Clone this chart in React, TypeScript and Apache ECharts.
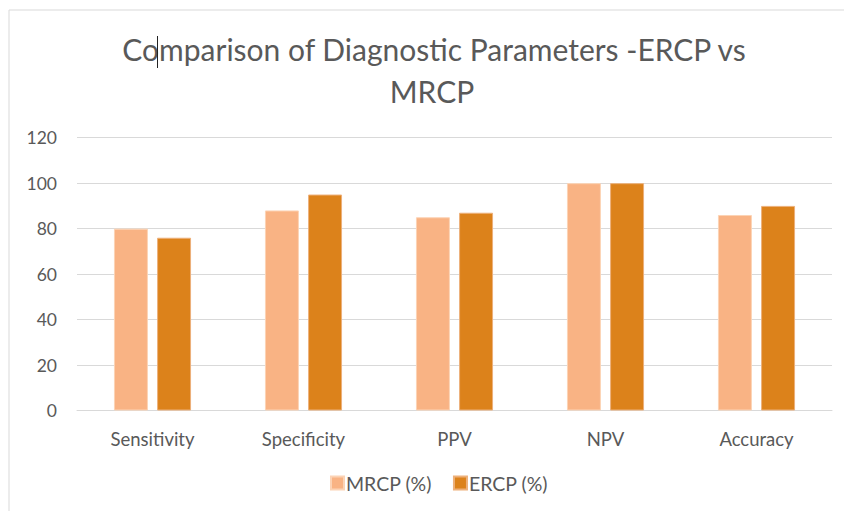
import React, { useEffect, useRef } from "react";
import * as echarts from "echarts";

const categories = ["Sensitivity", "Specificity", "PPV", "NPV", "Accuracy"];
const mrcpValues = [80, 88, 85, 100, 86];
const ercpValues = [76, 95, 87, 100, 90];
const seriesNames = ["MRCP (%)", "ERCP (%)"];
const titleLines = ["Comparison of Diagnostic Parameters -ERCP vs", "MRCP"];

const FONT = "Lato, 'Open Sans', sans-serif";
const TEXT = "#595959";

export default function App() {
  const ref = useRef<HTMLDivElement>(null);
  useEffect(() => {
    if (!ref.current) return;
    const chart = echarts.init(ref.current, undefined, { renderer: "svg" });
    chart.setOption({
      animation: false,
      backgroundColor: "#ffffff",
      textStyle: { fontFamily: FONT, color: TEXT },
      graphic: [
        {
          type: "rect",
          shape: { x: 9, y: 10, width: 900, height: 600 },
          style: { fill: "none", stroke: "#d9d9d9", lineWidth: 1 },
          silent: true,
          z: -1,
        },
        {
          type: "text",
          x: 434,
          y: 49,
          style: {
            text: titleLines[0],
            fontSize: 30,
            fontFamily: FONT,
            fill: TEXT,
            align: "center",
            verticalAlign: "middle",
          },
        },
        {
          type: "text",
          x: 432,
          y: 91,
          style: {
            text: titleLines[1],
            fontSize: 30,
            fontFamily: FONT,
            fill: TEXT,
            align: "center",
            verticalAlign: "middle",
          },
        },
        {
          type: "line",
          shape: { x1: 157.5, y1: 36, x2: 157.5, y2: 68 },
          style: { stroke: "#222", lineWidth: 1 },
        },
      ],
      grid: { left: 77, right: 12, top: 137.7, bottom: 100.5, containLabel: false },
      legend: {
        data: seriesNames,
        bottom: 13,
        left: 325,
        itemWidth: 13,
        itemHeight: 13,
        itemGap: 21,
        icon: "rect",
        textStyle: { fontFamily: FONT, fontSize: 19.5, color: TEXT, padding: [0, 0, 0, -3] },
      },
      xAxis: {
        type: "category",
        data: categories,
        axisLine: { show: true, lineStyle: { color: "#d9d9d9", width: 1 } },
        axisTick: { show: false },
        axisLabel: { fontFamily: FONT, fontSize: 18.5, color: TEXT, margin: 19 },
      },
      yAxis: {
        type: "value",
        min: 0,
        max: 120,
        interval: 20,
        axisLine: { show: false },
        axisTick: { show: false },
        axisLabel: { fontFamily: FONT, fontSize: 17.5, color: TEXT, margin: 20 },
        splitLine: { lineStyle: { color: "#d9d9d9", width: 1 } },
      },
      series: [
        {
          name: seriesNames[0],
          type: "bar",
          data: mrcpValues,
          barWidth: "22.5%",
          barGap: "27%",
          itemStyle: { color: "#F9B384", borderColor: "#FCD3B5", borderWidth: 1 },
        },
        {
          name: seriesNames[1],
          type: "bar",
          data: ercpValues,
          barWidth: "22.5%",
          itemStyle: { color: "#DC821B", borderColor: "#EDB07A", borderWidth: 1 },
        },
      ],
    });
    return () => chart.dispose();
  }, []);
  return (
    <div
      ref={ref}
      style={{ position: "fixed", left: 0, top: 0, width: 844, height: 511 }}
    />
  );
}
